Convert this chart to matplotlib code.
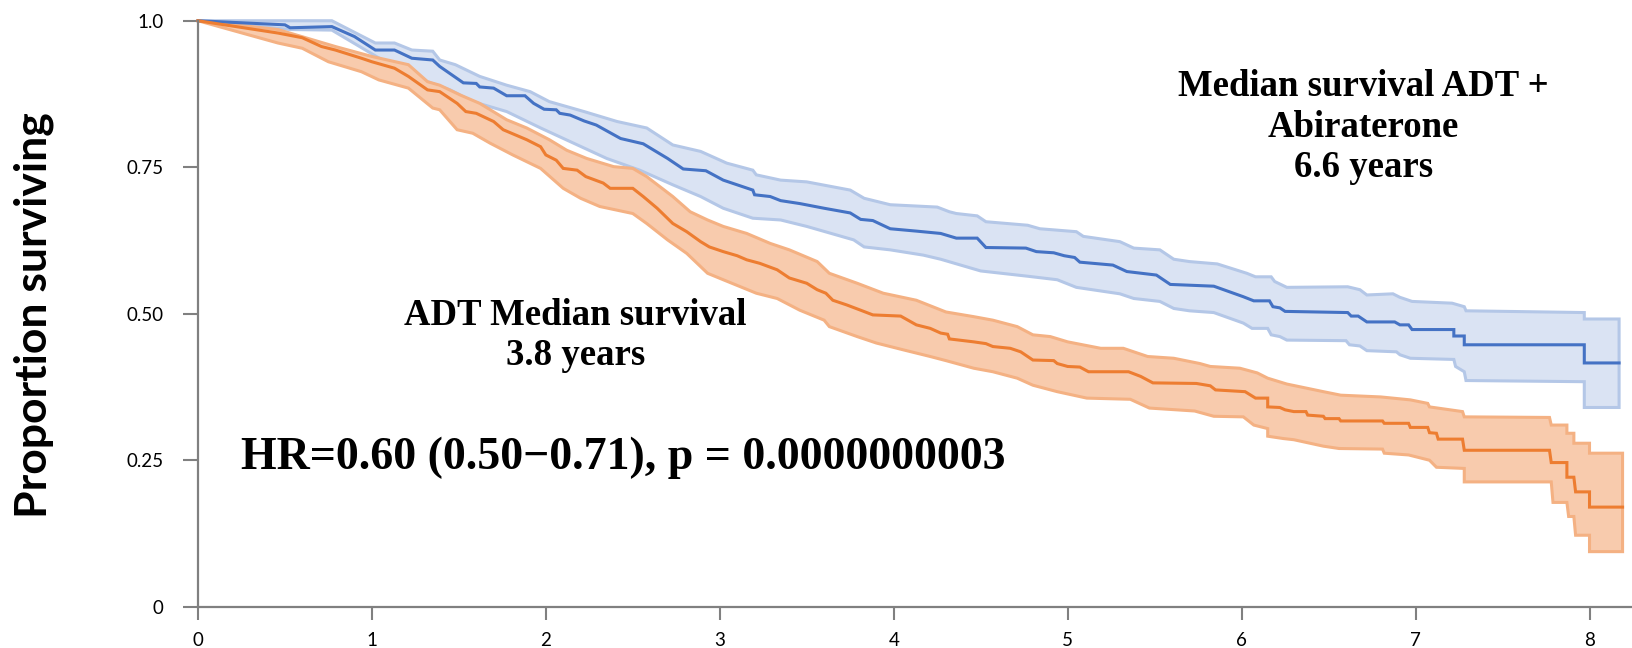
import numpy as np
import matplotlib.pyplot as plt

# Kaplan-Meier curves (years, proportion surviving)
abi_t = [0, 0.5, 0.53, 0.77, 0.90, 1.02, 1.13, 1.23, 1.35, 1.39, 1.526, 1.60, 1.62, 1.70, 1.775, 1.88,
         1.93, 1.99, 2.06, 2.08, 2.14, 2.22, 2.29, 2.43, 2.56, 2.70, 2.79, 2.92, 3.02, 3.19, 3.20, 3.29,
         3.35, 3.46, 3.60, 3.75, 3.81, 3.88, 3.98, 4.13, 4.27, 4.36, 4.48, 4.53, 4.76, 4.82, 4.92, 4.98,
         5.04, 5.07, 5.26, 5.34, 5.51, 5.59, 5.84, 6.01, 6.07, 6.16, 6.18, 6.22, 6.25, 6.61, 6.63, 6.67,
         6.72, 6.88, 6.91, 6.96, 6.98, 7.22, 7.22, 7.28, 7.28, 7.97, 7.97, 8.17]
abi_s = [1.0, 0.993, 0.988, 0.990, 0.973, 0.950, 0.950, 0.936, 0.933, 0.922, 0.894, 0.893, 0.887, 0.885,
         0.872, 0.872, 0.859, 0.849, 0.848, 0.842, 0.839, 0.829, 0.822, 0.799, 0.790, 0.765, 0.747, 0.744,
         0.728, 0.711, 0.703, 0.700, 0.693, 0.688, 0.680, 0.672, 0.661, 0.659, 0.645, 0.641, 0.637, 0.629,
         0.629, 0.613, 0.612, 0.606, 0.604, 0.599, 0.596, 0.588, 0.583, 0.572, 0.566, 0.550, 0.547, 0.529,
         0.522, 0.522, 0.512, 0.510, 0.504, 0.502, 0.496, 0.496, 0.486, 0.486, 0.481, 0.481, 0.473, 0.473,
         0.462, 0.462, 0.447, 0.447, 0.416, 0.416]

abi_up_t = [0, 0.77, 1.02, 1.13, 1.23, 1.35, 1.39, 1.48, 1.62, 1.775, 1.91, 2.02, 2.22, 2.41, 2.58, 2.73,
            2.89, 3.04, 3.19, 3.21, 3.35, 3.50, 3.75, 3.83, 3.98, 4.25, 4.32, 4.36, 4.48, 4.53, 4.77, 4.84,
            5.05, 5.09, 5.30, 5.38, 5.53, 5.61, 5.70, 5.86, 6.03, 6.08, 6.17, 6.19, 6.26, 6.61, 6.68, 6.72,
            6.87, 6.91, 6.98, 7.21, 7.28, 7.29, 7.97, 7.97, 8.17]
abi_up_s = [1.0, 1.0, 0.962, 0.962, 0.950, 0.948, 0.933, 0.925, 0.905, 0.890, 0.879, 0.862, 0.845, 0.828,
            0.817, 0.788, 0.777, 0.757, 0.745, 0.737, 0.728, 0.725, 0.711, 0.697, 0.686, 0.682, 0.674, 0.671,
            0.667, 0.657, 0.651, 0.645, 0.640, 0.632, 0.623, 0.612, 0.609, 0.593, 0.589, 0.585, 0.569, 0.563,
            0.563, 0.555, 0.545, 0.546, 0.541, 0.532, 0.534, 0.528, 0.521, 0.518, 0.512, 0.505, 0.502, 0.491,
            0.491]

abi_lo_t = [0, 0.53, 0.77, 1.06, 1.32, 1.45, 1.58, 1.775, 1.97, 2.16, 2.35, 2.54, 2.73, 2.89, 3.02, 3.19,
            3.35, 3.50, 3.77, 3.83, 3.98, 4.17, 4.27, 4.50, 4.77, 4.94, 5.05, 5.30, 5.38, 5.53, 5.61, 5.70,
            5.84, 6.01, 6.06, 6.15, 6.17, 6.22, 6.26, 6.60, 6.62, 6.68, 6.72, 6.89, 6.91, 6.97, 7.22, 7.23,
            7.28, 7.29, 7.97, 7.97, 8.17]
abi_lo_s = [1.0, 0.985, 0.984, 0.933, 0.896, 0.882, 0.862, 0.845, 0.817, 0.791, 0.765, 0.745, 0.720, 0.700,
            0.680, 0.663, 0.660, 0.649, 0.626, 0.614, 0.609, 0.600, 0.593, 0.573, 0.564, 0.558, 0.545, 0.534,
            0.526, 0.521, 0.509, 0.505, 0.502, 0.484, 0.475, 0.475, 0.464, 0.461, 0.455, 0.454, 0.447, 0.445,
            0.437, 0.435, 0.430, 0.424, 0.422, 0.410, 0.401, 0.386, 0.384, 0.340, 0.340]

adt_t = [0, 0.46, 0.6, 0.71, 0.79, 0.94, 1.0, 1.13, 1.21, 1.32, 1.39, 1.49, 1.54, 1.60, 1.70, 1.755, 1.89,
         1.97, 2.00, 2.06, 2.10, 2.18, 2.23, 2.33, 2.37, 2.50, 2.56, 2.64, 2.73, 2.81, 2.89, 2.94, 3.02,
         3.10, 3.155, 3.23, 3.33, 3.40, 3.50, 3.56, 3.61, 3.65, 3.73, 3.81, 3.88, 4.04, 4.13, 4.21, 4.27,
         4.31, 4.32, 4.46, 4.53, 4.57, 4.67, 4.73, 4.80, 4.92, 4.94, 5.00, 5.07, 5.12, 5.35, 5.42, 5.49,
         5.74, 5.82, 5.85, 6.02, 6.08, 6.15, 6.15, 6.22, 6.25, 6.30, 6.37, 6.38, 6.47, 6.48, 6.56, 6.57,
         6.81, 6.82, 6.96, 6.97, 7.07, 7.08, 7.12, 7.13, 7.27, 7.28, 7.77, 7.78, 7.87, 7.87, 7.91, 7.92,
         8.00, 8.00, 8.19]
adt_s = [1.0, 0.979, 0.971, 0.956, 0.950, 0.936, 0.930, 0.919, 0.905, 0.882, 0.879, 0.859, 0.845, 0.842,
         0.828, 0.814, 0.797, 0.785, 0.771, 0.762, 0.748, 0.745, 0.734, 0.723, 0.714, 0.714, 0.700, 0.680,
         0.654, 0.640, 0.623, 0.614, 0.606, 0.599, 0.592, 0.586, 0.575, 0.561, 0.552, 0.541, 0.535, 0.523,
         0.515, 0.506, 0.498, 0.496, 0.481, 0.475, 0.467, 0.465, 0.457, 0.452, 0.449, 0.444, 0.441, 0.435,
         0.421, 0.420, 0.415, 0.410, 0.409, 0.401, 0.401, 0.393, 0.382, 0.381, 0.377, 0.370, 0.367, 0.356,
         0.356, 0.341, 0.340, 0.336, 0.333, 0.333, 0.327, 0.325, 0.321, 0.321, 0.317, 0.317, 0.313, 0.313,
         0.306, 0.306, 0.297, 0.296, 0.286, 0.286, 0.267, 0.267, 0.246, 0.246, 0.221, 0.221, 0.196, 0.196,
         0.170, 0.170]

adt_up_t = [0, 0.46, 0.79, 1.0, 1.21, 1.32, 1.39, 1.51, 1.62, 1.775, 1.89, 2.02, 2.12, 2.235, 2.39, 2.50,
            2.58, 2.73, 2.83, 2.93, 3.02, 3.155, 3.29, 3.40, 3.56, 3.63, 3.79, 3.94, 4.13, 4.30, 4.46, 4.57,
            4.71, 4.80, 4.90, 5.00, 5.19, 5.32, 5.46, 5.61, 5.76, 5.82, 5.99, 6.09, 6.15, 6.26, 6.47, 6.57,
            6.80, 6.97, 7.07, 7.08, 7.27, 7.28, 7.77, 7.78, 7.87, 7.87, 7.91, 7.91, 8.00, 8.00, 8.19]
adt_up_s = [1.0, 0.985, 0.956, 0.939, 0.925, 0.896, 0.890, 0.873, 0.859, 0.831, 0.817, 0.797, 0.779, 0.765,
            0.751, 0.748, 0.734, 0.700, 0.674, 0.660, 0.649, 0.637, 0.620, 0.609, 0.589, 0.569, 0.552, 0.535,
            0.523, 0.503, 0.495, 0.489, 0.478, 0.464, 0.461, 0.452, 0.441, 0.441, 0.427, 0.424, 0.415, 0.410,
            0.407, 0.399, 0.390, 0.380, 0.367, 0.361, 0.358, 0.353, 0.347, 0.341, 0.333, 0.324, 0.323, 0.310,
            0.310, 0.296, 0.296, 0.279, 0.279, 0.262, 0.262]

adt_lo_t = [0, 0.46, 0.6, 0.75, 0.94, 1.04, 1.21, 1.35, 1.39, 1.49, 1.58, 1.68, 1.81, 1.97, 2.10, 2.20,
            2.31, 2.50, 2.58, 2.70, 2.81, 2.93, 3.02, 3.21, 3.33, 3.46, 3.60, 3.63, 3.79, 3.90, 4.06, 4.21,
            4.30, 4.46, 4.57, 4.71, 4.80, 4.94, 5.11, 5.36, 5.47, 5.73, 5.84, 6.01, 6.07, 6.15, 6.15, 6.24,
            6.30, 6.47, 6.56, 6.81, 6.82, 6.96, 7.08, 7.12, 7.28, 7.28, 7.78, 7.79, 7.87, 7.88, 7.91, 7.92,
            8.00, 8.00, 8.19]
adt_lo_s = [1.0, 0.962, 0.953, 0.930, 0.913, 0.899, 0.885, 0.851, 0.848, 0.814, 0.808, 0.791, 0.771, 0.748,
            0.714, 0.697, 0.683, 0.671, 0.654, 0.626, 0.603, 0.569, 0.558, 0.535, 0.526, 0.506, 0.489, 0.478,
            0.461, 0.450, 0.438, 0.427, 0.420, 0.407, 0.401, 0.390, 0.378, 0.367, 0.356, 0.354, 0.339, 0.334,
            0.325, 0.324, 0.310, 0.304, 0.291, 0.287, 0.285, 0.274, 0.270, 0.269, 0.262, 0.259, 0.250, 0.238,
            0.236, 0.213, 0.213, 0.178, 0.178, 0.154, 0.154, 0.122, 0.122, 0.094, 0.094]

x_ticks = [0, 1, 2, 3, 4, 5, 6, 7, 8]
y_ticks = [0, 0.25, 0.5, 0.75, 1.0]
y_ticklabels = ['0', '0.25', '0.50', '0.75', '1.0']

blue, blue_fill, blue_edge = '#4472C4', '#DAE3F3', '#B4C7E7'
orange, orange_fill, orange_edge = '#ED7D31', '#F8CBAD', '#F4B183'
grey = '#808080'

fig = plt.figure(figsize=(16.33, 6.48), dpi=100)
ax = fig.add_axes([0.1212, 0.0637, 0.8788, 0.9043])

# confidence bands as polygons (upper edge out, lower edge back)
for up_t, up_s, lo_t, lo_s, fc, ec in [
        (abi_up_t, abi_up_s, abi_lo_t, abi_lo_s, blue_fill, blue_edge),
        (adt_up_t, adt_up_s, adt_lo_t, adt_lo_s, orange_fill, orange_edge)]:
    ax.fill(np.r_[up_t, lo_t[::-1]], np.r_[up_s, lo_s[::-1]], facecolor=fc,
            edgecolor=ec, linewidth=2.2, clip_on=False)

ax.plot(abi_t, abi_s, color=blue, lw=2.2, clip_on=False, solid_joinstyle='miter')
ax.plot(adt_t, adt_s, color=orange, lw=2.2, clip_on=False, solid_joinstyle='miter')

ax.set_xlim(0, 8.25)
ax.set_ylim(0, 1)
ax.set_xticks(x_ticks)
ax.set_yticks(y_ticks)
ax.set_yticklabels(y_ticklabels)
for s in ['top', 'right']:
    ax.spines[s].set_visible(False)
for s in ['left', 'bottom']:
    ax.spines[s].set_color(grey)
    ax.spines[s].set_linewidth(1.6)
ax.tick_params(axis='y', length=11, width=1.5, color=grey, pad=14, labelsize=13.5)
ax.tick_params(axis='x', length=9, width=1.5, color=grey, pad=9, labelsize=13.5)
for lab in ax.get_xticklabels() + ax.get_yticklabels():
    lab.set_fontfamily('Lato')

fig.text(34 / 1633, 1 - 315 / 648, 'Proportion surviving', rotation=90, ha='center',
         va='center', fontsize=32, fontweight='bold', family='Lato')

serif = dict(family='Liberation Serif', fontweight='bold', ha='center', va='center')
ax.text(6.7, 0.818, 'Median survival ADT +\nAbiraterone\n6.6 years', fontsize=26.5,
        linespacing=1.2, **serif)
ax.text(2.17, 0.463, 'ADT Median survival\n3.8 years', fontsize=26.5, linespacing=1.2, **serif)
ax.text(0.25, 0.254, 'HR=0.60 (0.50\u22120.71), p = 0.0000000003', fontsize=33,
        family='Liberation Serif', fontweight='bold', ha='left', va='center')

fig.savefig('out.png', dpi=100)
